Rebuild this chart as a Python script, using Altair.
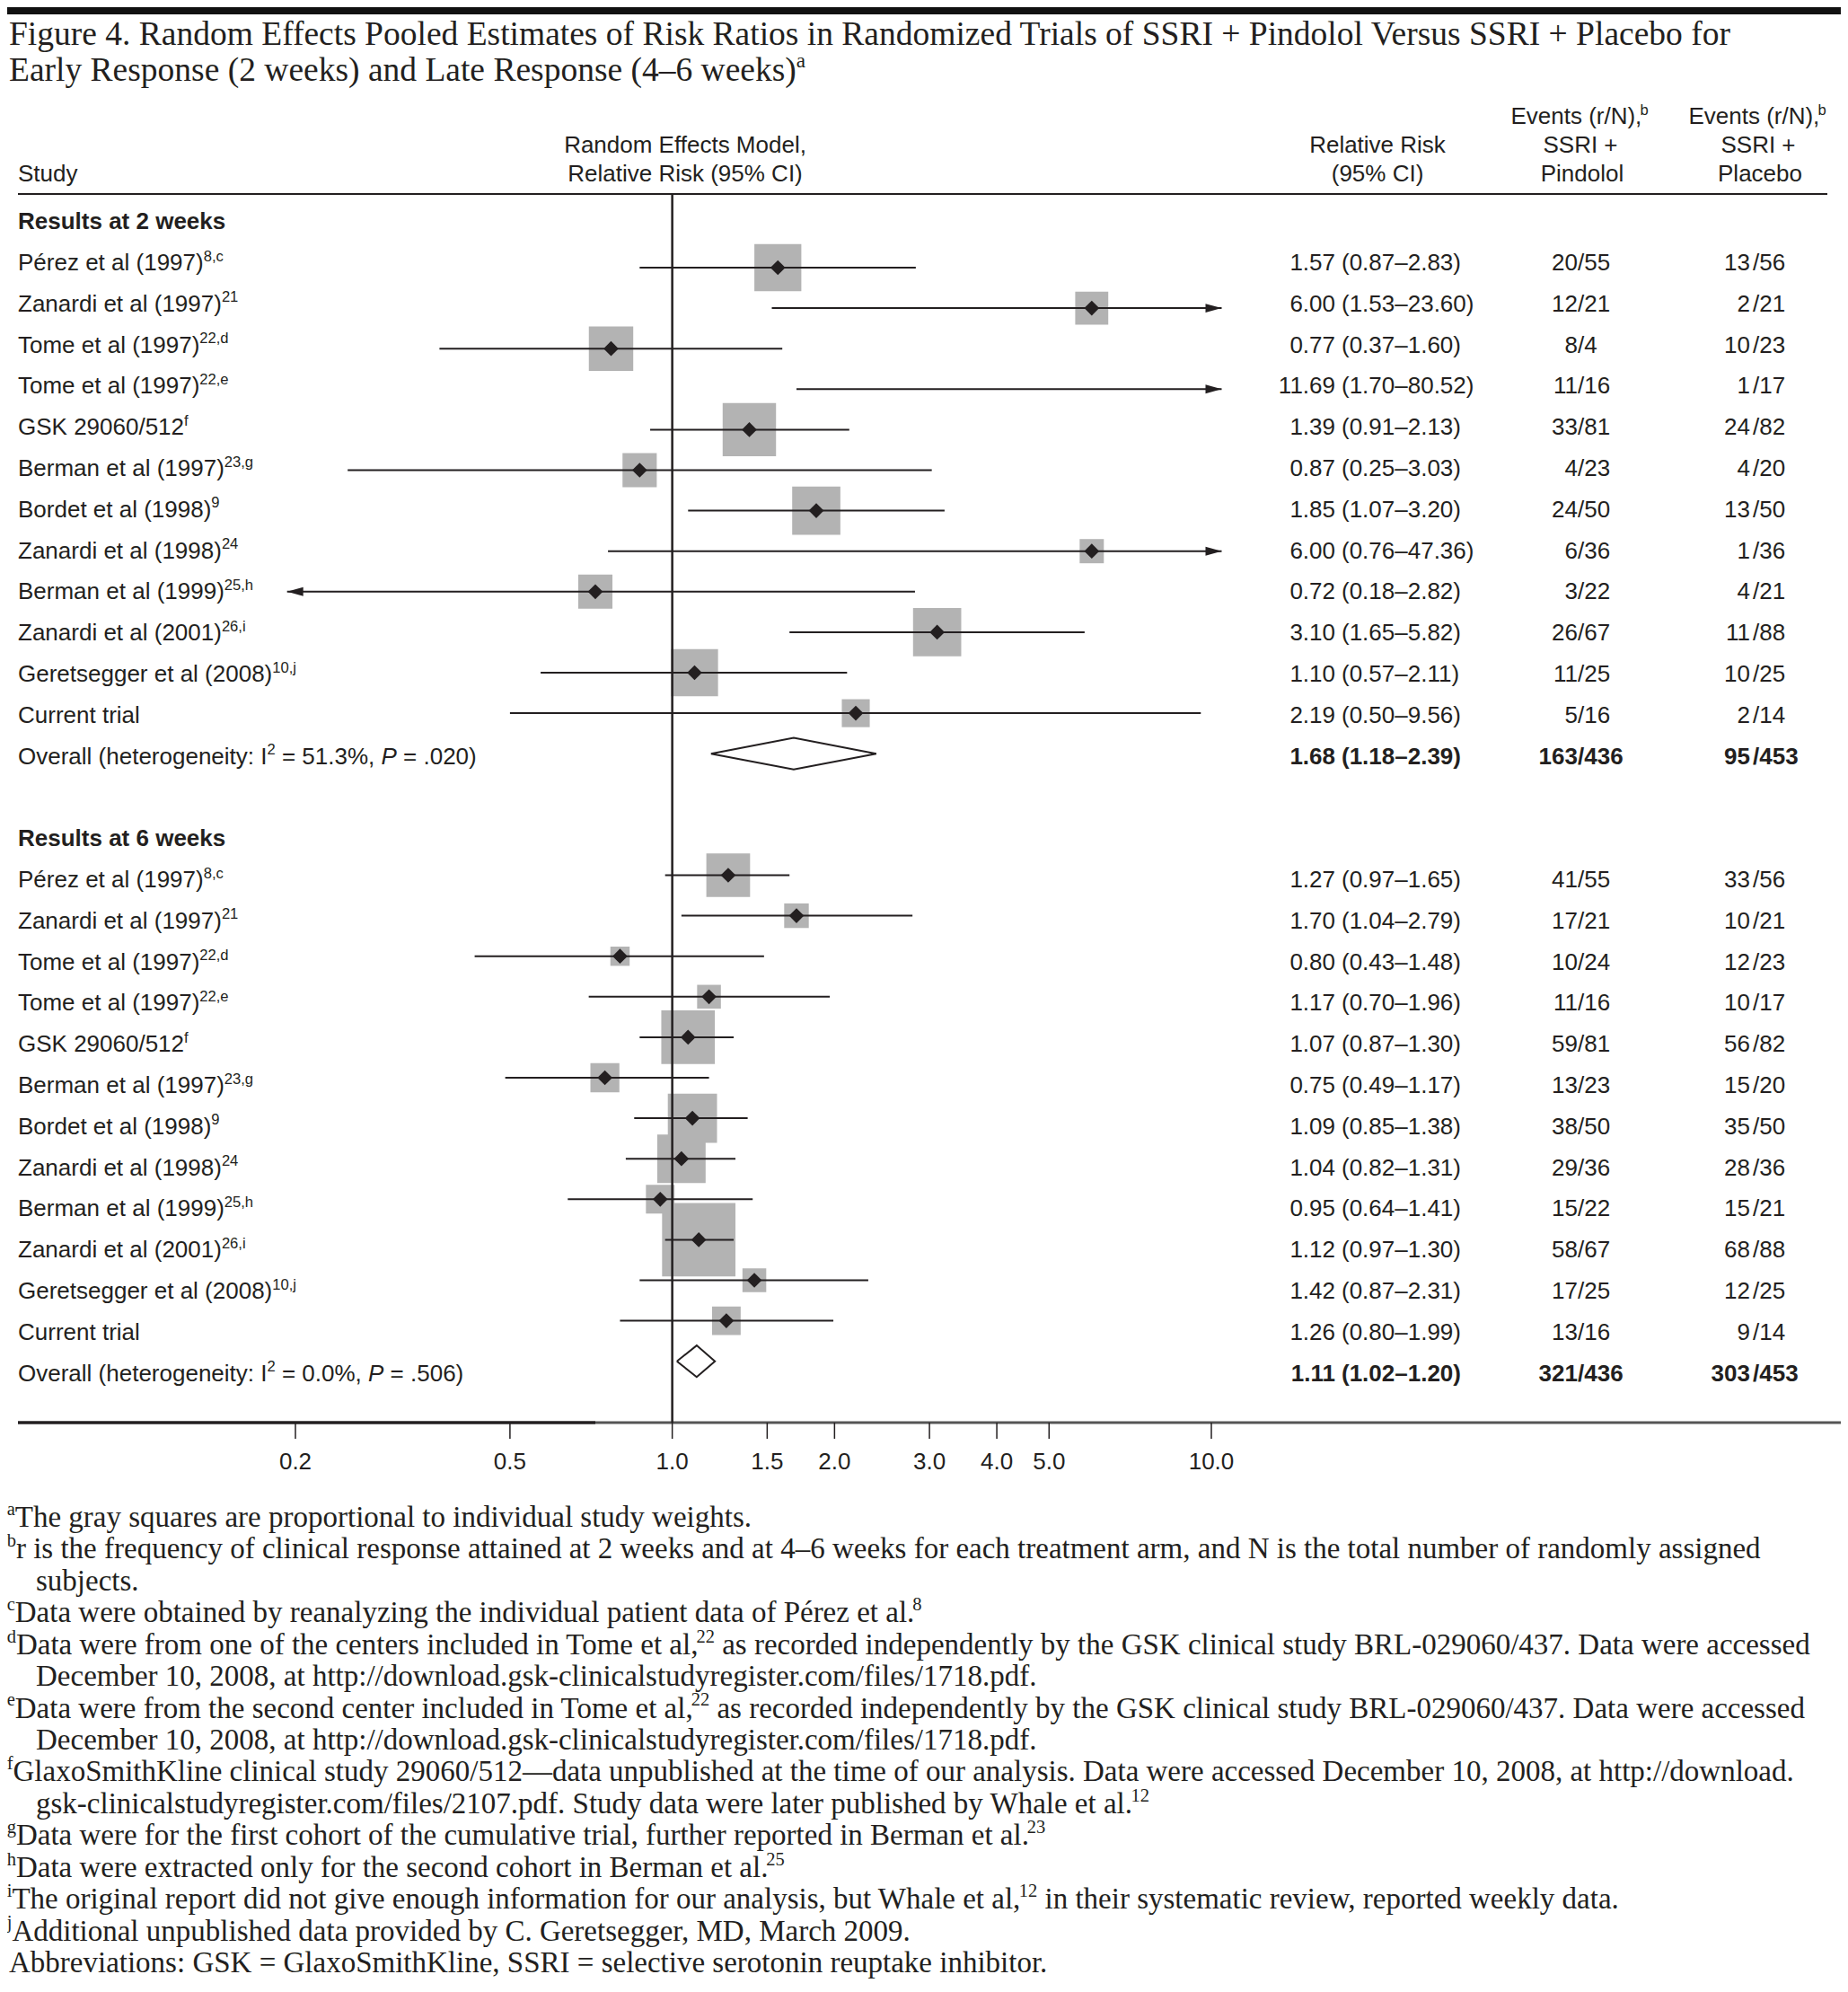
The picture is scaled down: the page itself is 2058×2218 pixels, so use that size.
import altair as alt
import pandas as pd

# ---------------- values ----------------
study_names = ["Pérez et al (1997)", "Zanardi et al (1997)", "Tome et al (1997)",
               "Tome et al (1997)", "GSK 29060/512", "Berman et al (1997)",
               "Bordet et al (1998)", "Zanardi et al (1998)", "Berman et al (1999)",
               "Zanardi et al (2001)", "Geretsegger et al (2008)", "Current trial"]
study_refs = ["8,c", "21", "22,d", "22,e", "f", "23,g", "9", "24", "25,h", "26,i", "10,j", ""]
section_titles = ["Results at 2 weeks", "Results at 6 weeks"]

rr_2wk = [1.57, 6.00, 0.77, 11.69, 1.39, 0.87, 1.85, 6.00, 0.72, 3.10, 1.10, 2.19]
lo_2wk = [0.87, 1.53, 0.37, 1.70, 0.91, 0.25, 1.07, 0.76, 0.18, 1.65, 0.57, 0.50]
hi_2wk = [2.83, 23.60, 1.60, 80.52, 2.13, 3.03, 3.20, 47.36, 2.82, 5.82, 2.11, 9.56]
weight_2wk = [11.3, 5.6, 10.1, 2.5, 14.6, 6.0, 11.9, 3.0, 6.0, 11.9, 11.3, 4.0]
pindolol_2wk = ["20/55", "12/21", "8/4", "11/16", "33/81", "4/23", "24/50", "6/36", "3/22", "26/67", "11/25", "5/16"]
placebo_2wk = ["13/56", "2/21", "10/23", "1/17", "24/82", "4/20", "13/50", "1/36", "4/21", "11/88", "10/25", "2/14"]

rr_6wk = [1.27, 1.70, 0.80, 1.17, 1.07, 0.75, 1.09, 1.04, 0.95, 1.12, 1.42, 1.26]
lo_6wk = [0.97, 1.04, 0.43, 0.70, 0.87, 0.49, 0.85, 0.82, 0.64, 0.97, 0.87, 0.80]
hi_6wk = [1.65, 2.79, 1.48, 1.96, 1.30, 1.17, 1.38, 1.31, 1.41, 1.30, 2.31, 1.99]
weight_6wk = [9.8, 3.1, 1.9, 2.9, 14.7, 4.3, 12.4, 12.0, 4.2, 27.6, 2.9, 4.2]
pindolol_6wk = ["41/55", "17/21", "10/24", "11/16", "59/81", "13/23", "38/50", "29/36", "15/22", "58/67", "17/25", "13/16"]
placebo_6wk = ["33/56", "10/21", "12/23", "10/17", "56/82", "15/20", "35/50", "28/36", "15/21", "68/88", "12/25", "9/14"]

overall_rr = [1.68, 1.11]
overall_lo = [1.18, 1.02]
overall_hi = [2.39, 1.20]
overall_pindolol = ["163/436", "321/436"]
overall_placebo = ["95/453", "303/453"]
overall_i2 = ["51.3%", "0.0%"]
overall_p = [".020", ".506"]

axis_ticks = [0.2, 0.5, 1.0, 1.5, 2.0, 3.0, 4.0, 5.0, 10.0]
axis_labels = ["0.2", "0.5", "1.0", "1.5", "2.0", "3.0", "4.0", "5.0", "10.0"]
shown_range = [0.193, 10.45]   # CIs reaching beyond end in an arrow

title_lines = ["Figure 4. Random Effects Pooled Estimates of Risk Ratios in Randomized Trials of SSRI + Pindolol Versus SSRI + Placebo for",
               "Early Response (2 weeks) and Late Response (4–6 weeks)"]
header_model = ["Random Effects Model,", "Relative Risk (95% CI)"]
header_rr = ["Relative Risk", "(95% CI)"]
header_pin = ["Events (r/N),", "SSRI +", "Pindolol"]
header_pla = ["Events (r/N),", "SSRI +", "Placebo"]

footnotes = [
    (False, [("a", "s"), ("The gray squares are proportional to individual study weights.", "n")]),
    (False, [("b", "s"), ("r is the frequency of clinical response attained at 2 weeks and at 4–6 weeks for each treatment arm, and N is the total number of randomly assigned", "n")]),
    (True, [("subjects.", "n")]),
    (False, [("c", "s"), ("Data were obtained by reanalyzing the individual patient data of Pérez et al.", "n"), ("8", "s")]),
    (False, [("d", "s"), ("Data were from one of the centers included in Tome et al,", "n"), ("22", "s"),
             (" as recorded independently by the GSK clinical study BRL-029060/437. Data were accessed", "n")]),
    (True, [("December 10, 2008, at http://download.gsk-clinicalstudyregister.com/files/1718.pdf.", "n")]),
    (False, [("e", "s"), ("Data were from the second center included in Tome et al,", "n"), ("22", "s"),
             (" as recorded independently by the GSK clinical study BRL-029060/437. Data were accessed", "n")]),
    (True, [("December 10, 2008, at http://download.gsk-clinicalstudyregister.com/files/1718.pdf.", "n")]),
    (False, [("f", "s"), ("GlaxoSmithKline clinical study 29060/512—data unpublished at the time of our analysis. Data were accessed December 10, 2008, at http://download.", "n")]),
    (True, [("gsk-clinicalstudyregister.com/files/2107.pdf. Study data were later published by Whale et al.", "n"), ("12", "s")]),
    (False, [("g", "s"), ("Data were for the first cohort of the cumulative trial, further reported in Berman et al.", "n"), ("23", "s")]),
    (False, [("h", "s"), ("Data were extracted only for the second cohort in Berman et al.", "n"), ("25", "s")]),
    (False, [("i", "s"), ("The original report did not give enough information for our analysis, but Whale et al,", "n"), ("12", "s"),
             (" in their systematic review, reported weekly data.", "n")]),
    (False, [("j", "s"), ("Additional unpublished data provided by C. Geretsegger, MD, March 2009.", "n")]),
    (False, [("Abbreviations: GSK = GlaxoSmithKline, SSRI = selective serotonin reuptake inhibitor.", "n")]),
]

# ---------------- layout / style ----------------
OX = OY = 8
W, H = 2042, 2202
INK = "#231f20"
GRAY = "#b3b3b3"
SANS, SERIF = "Liberation Sans", "Liberation Serif"
FS = 26
TEXT_ROW0, TEXT_STEP = 246.0, 45.8
GRAPH_ROW0, GRAPH_STEP = 252.9, 45.1
X_02, X_10 = 329.0, 1349.0
AREA_PER_PCT = 242.0
DIAMOND_HALF = 0.39

# advance widths (per 1000 em) for Liberation Sans / Liberation Serif
ARIAL = {" ": 278, "%": 889, "(": 333, ")": 333, "+": 584, ",": 278, "-": 333, ".": 278, "/": 278,
         ":": 278, "=": 584, "–": 556, "—": 1000, "é": 556}
TIMES = {" ": 250, "%": 833, "(": 333, ")": 333, "+": 564, ",": 250, "-": 333, ".": 250, "/": 278,
         ":": 278, "=": 564, "–": 500, "—": 1000, "é": 444}
for d in "0123456789":
    ARIAL[d] = 556
    TIMES[d] = 500
for c, a, t in zip("ABCDEFGHIJKLMNOPQRSTUVWXYZ",
                   [667, 667, 722, 722, 667, 611, 778, 722, 278, 500, 667, 556, 833, 722, 778, 667, 778, 722, 667, 611, 722, 667, 944, 667, 667, 611],
                   [722, 667, 667, 722, 611, 556, 722, 722, 333, 389, 722, 611, 889, 722, 722, 556, 722, 667, 556, 611, 722, 722, 944, 722, 722, 611]):
    ARIAL[c] = a
    TIMES[c] = t
for c, a, t in zip("abcdefghijklmnopqrstuvwxyz",
                   [556, 556, 500, 556, 556, 278, 556, 556, 222, 222, 500, 222, 833, 556, 556, 556, 556, 333, 500, 278, 556, 500, 722, 500, 500, 500],
                   [444, 500, 444, 500, 444, 333, 500, 500, 278, 278, 500, 278, 778, 500, 500, 500, 500, 333, 389, 278, 500, 500, 722, 500, 500, 444]):
    ARIAL[c] = a
    TIMES[c] = t
KERN = {
    "sans": {"To": -111, "Te": -111, "Ta": -111, "Ty": -74, "Tr": -37},
    "serif": {"To": -80, "Te": -70, "Ta": -80, "r.": -55, "r,": -40, "y.": -65, "y,": -65,
              "w.": -65, "w,": -65, "v.": -65, "v,": -65, "Wh": 0},
}


def tw(s, table, size):
    kern = KERN["sans"] if table is ARIAL else KERN["serif"]
    total = sum(table.get(ch, 500) for ch in s)
    total += sum(kern.get(s[k:k + 2], 0) for k in range(len(s) - 1))
    return total * size / 1000.0


TITLE_FS = round((1937 - 10) / tw(title_lines[0], TIMES, 1), 1)
FOOT_FS = round((1965 - 20) / tw(footnotes[1][1][1][0], TIMES, 1), 1)

# ---------------- scales ----------------
def lin(domain, rng):
    return alt.Scale(type="linear", domain=domain, range=rng, nice=False, zero=False)

px_x = lin([OX, OX + W], [0, W])
px_y = lin([OY, OY + H], [0, H])
row_t = lin([0, 28], [TEXT_ROW0 - OY, TEXT_ROW0 + 28 * TEXT_STEP - OY])
row_g = lin([0, 28], [GRAPH_ROW0 - OY, GRAPH_ROW0 + 28 * GRAPH_STEP - OY])
logx = alt.Scale(type="log", domain=[0.2, 10], range=[X_02 - OX, X_10 - OX], nice=False)

# ---------------- text records ----------------
recs = []


def put(x, y, text, xmode="px", ymode="px", font=SANS, size=FS, weight="normal",
        style="normal", align="left", dy=0.0):
    recs.append(dict(x=x, y=y, text=text, xmode=xmode, ymode=ymode, font=font, size=float(size),
                     weight=weight, style=style, align=align, dy=round(float(dy), 2)))


def rich(x, y, segs, ymode="px", font=SANS, size=FS, weight="normal", align="left", dy=0.0):
    table = ARIAL if font == SANS else TIMES
    ssz = round(size * (0.64 if font == SANS else 0.62), 1)
    widths = [tw(t, table, ssz if k == "s" else size) for t, k in segs]
    total = sum(widths)
    cx = x - total / 2 if align == "center" else (x - total if align == "right" else x)
    prev = ""
    for (t, k), w in zip(segs, widths):
        sz = ssz if k == "s" else size
        lead = len(t) - len(t.lstrip(" "))
        body = t.strip(" ")
        if k == "s" and prev in ".,":
            cx -= 0.07 * size
        if body:
            put(cx + tw(" " * lead, table, sz), y, body, ymode=ymode, font=font, size=sz, weight=weight,
                style="italic" if k == "i" else "normal",
                dy=dy - (0.40 * size if k == "s" else 0.0))
        cx += w
        prev = t[-1:] if t else prev


# title
rich(10, 50, [(title_lines[0], "n")], font=SERIF, size=TITLE_FS)
rich(10, 90, [(title_lines[1], "n"), ("a", "s")], font=SERIF, size=TITLE_FS)

# column headers (baselines)
HB = [138, 170, 202]
put(20, HB[2], "Study")
put(763, HB[1], header_model[0], align="center")
put(763, HB[2], header_model[1], align="center")
put(1534, HB[1], header_rr[0], align="center")
put(1534, HB[2], header_rr[1], align="center")
for cx, lines in [(1760, header_pin), (1958, header_pla)]:
    rich(cx, HB[0], [(lines[0], "n"), ("b", "s")], align="center")
    put(cx, HB[1], lines[1], align="center")
    put(cx + 2, HB[2], lines[2], align="center")

RDY = 0.35 * FS
RR_RIGHT, CI_LEFT = 1487, 1494
PIN_SLASH, PLA_NUM, PLA_SLASH = 1757, 1949, 1952

sections = [
    (rr_2wk, lo_2wk, hi_2wk, weight_2wk, pindolol_2wk, placebo_2wk),
    (rr_6wk, lo_6wk, hi_6wk, weight_6wk, pindolol_6wk, placebo_6wk),
]

forest_rows = []
diamond_pts = []
for s, (rr, lo, hi, wt, pin, pla) in enumerate(sections):
    base = 15 * s
    put(20, base, section_titles[s], ymode="row", weight="bold", dy=RDY)
    for i in range(len(study_names)):
        r = base + 1 + i
        segs = [(study_names[i], "n")]
        if study_refs[i]:
            segs.append((study_refs[i], "s"))
        rich(20, r, segs, ymode="row", dy=RDY)
        put(RR_RIGHT, r, f"{rr[i]:.2f}", ymode="row", align="right", dy=RDY)
        put(CI_LEFT, r, f"({lo[i]:.2f}–{hi[i]:.2f})", ymode="row", dy=RDY)
        n1, d1 = pin[i].split("/")
        put(PIN_SLASH, r, n1, ymode="row", align="right", dy=RDY)
        put(PIN_SLASH, r, "/" + d1, ymode="row", dy=RDY)
        n2, d2 = pla[i].split("/")
        put(PLA_NUM, r, n2, ymode="row", align="right", dy=RDY)
        put(PLA_SLASH, r, "/" + d2, ymode="row", dy=RDY)
        forest_rows.append(dict(
            row=r, rr=rr[i], w=wt[i],
            lo_c=max(lo[i], shown_range[0]), hi_c=min(hi[i], shown_range[1]),
            inside=shown_range[0] <= rr[i] <= shown_range[1],
            arrow_r=hi[i] > shown_range[1], arrow_l=lo[i] < shown_range[0]))
    r = base + 13
    rich(20, r, [("Overall (heterogeneity: I", "n"), ("2", "s"), (" = " + overall_i2[s] + ", ", "n"),
                 ("P", "i"), (" = " + overall_p[s] + ")", "n")], ymode="row", dy=RDY)
    put(RR_RIGHT, r, f"{overall_rr[s]:.2f}", ymode="row", align="right", weight="bold", dy=RDY)
    put(CI_LEFT, r, f"({overall_lo[s]:.2f}–{overall_hi[s]:.2f})", ymode="row", weight="bold", dy=RDY)
    n1, d1 = overall_pindolol[s].split("/")
    put(PIN_SLASH, r, n1, ymode="row", align="right", weight="bold", dy=RDY)
    put(PIN_SLASH, r, "/" + d1, ymode="row", weight="bold", dy=RDY)
    n2, d2 = overall_placebo[s].split("/")
    put(PLA_NUM, r, n2, ymode="row", align="right", weight="bold", dy=RDY)
    put(PLA_SLASH, r, "/" + d2, ymode="row", weight="bold", dy=RDY)
    pts = [(overall_lo[s], r), (overall_rr[s], r - DIAMOND_HALF), (overall_hi[s], r),
           (overall_rr[s], r + DIAMOND_HALF), (overall_lo[s], r)]
    for k, (xv, yv) in enumerate(pts):
        diamond_pts.append(dict(g=s, i=k, x=xv, y=yv))

# axis labels
for v, lab in zip(axis_ticks, axis_labels):
    put(v, 1636, lab, xmode="log", align="center")

# footnotes
for j, (indent, segs) in enumerate(footnotes):
    rich(40 if indent else 10, 1700 + 35.43 * j, segs, font=SERIF, size=FOOT_FS)

# ---------------- layers ----------------
layers = []

deco = alt.Chart(pd.DataFrame({"x": [OX], "x2": [OX + W], "y": [OY], "y2": [OY + 8]})).mark_rect(color="#111111").encode(
    x=alt.X("x:Q", scale=px_x, axis=None), x2="x2:Q",
    y=alt.Y("y:Q", scale=px_y, axis=None), y2="y2:Q")
layers.append(deco)

for xs, ys, color, sw in [((20, 2035), 216, INK, 2.2), ((20, 663), 1584, INK, 3.5), ((663, 2050), 1584, "#555555", 3.0)]:
    layers.append(alt.Chart(pd.DataFrame({"x": [xs[0]], "x2": [xs[1]], "y": [ys]})).mark_rule(color=color, strokeWidth=sw).encode(
        x=alt.X("x:Q", scale=px_x, axis=None), x2="x2:Q", y=alt.Y("y:Q", scale=px_y, axis=None)))

forest = pd.DataFrame(forest_rows)
X_RR = alt.X("rr:Q", scale=logx, axis=None)
Y_ROW = alt.Y("row:Q", scale=row_g, axis=None)

layers.append(alt.Chart(forest[forest["inside"]]).mark_square(color=GRAY, opacity=1, strokeWidth=0).encode(
    x=X_RR, y=Y_ROW,
    size=alt.Size("w:Q", scale=alt.Scale(type="linear", domain=[0, 100], range=[0, AREA_PER_PCT * 100], zero=True), legend=None)))

# reference line at RR = 1 and axis ticks
layers.append(alt.Chart(pd.DataFrame({"x": [1.0], "y": [216], "y2": [1584]})).mark_rule(color=INK, strokeWidth=2.5).encode(
    x=alt.X("x:Q", scale=logx, axis=None), y=alt.Y("y:Q", scale=px_y, axis=None), y2="y2:Q"))
layers.append(alt.Chart(pd.DataFrame({"x": axis_ticks, "y": [1584] * len(axis_ticks), "y2": [1602] * len(axis_ticks)})).mark_rule(color=INK, strokeWidth=1.5).encode(
    x=alt.X("x:Q", scale=logx, axis=None), y=alt.Y("y:Q", scale=px_y, axis=None), y2="y2:Q"))

layers.append(alt.Chart(forest).mark_rule(color=INK, strokeWidth=2).encode(
    x=alt.X("lo_c:Q", scale=logx, axis=None), x2="hi_c:Q", y=Y_ROW))

layers.append(alt.Chart(forest[forest["inside"]]).mark_point(shape="diamond", filled=True, size=280, color=INK, opacity=1, strokeWidth=0).encode(
    x=X_RR, y=Y_ROW))

layers.append(alt.Chart(forest[forest["arrow_r"]]).mark_point(shape="M-1,-0.55L1,0L-1,0.55Z", filled=True, size=324, xOffset=-9, color=INK, opacity=1, strokeWidth=0).encode(
    x=alt.X("hi_c:Q", scale=logx, axis=None), y=Y_ROW))
layers.append(alt.Chart(forest[forest["arrow_l"]]).mark_point(shape="M1,-0.55L-1,0L1,0.55Z", filled=True, size=324, xOffset=9, color=INK, opacity=1, strokeWidth=0).encode(
    x=alt.X("lo_c:Q", scale=logx, axis=None), y=Y_ROW))

layers.append(alt.Chart(pd.DataFrame(diamond_pts)).mark_line(color=INK, strokeWidth=2).encode(
    x=alt.X("x:Q", scale=logx, axis=None), y=alt.Y("y:Q", scale=row_g, axis=None),
    detail="g:N", order="i:Q"))

tdf = pd.DataFrame(recs)
keys = ["xmode", "ymode", "font", "size", "weight", "style", "align", "dy"]
for key, sub in tdf.groupby(keys, sort=False):
    xm, ym, font, size, weight, style, align, dy = key
    layers.append(alt.Chart(sub[["x", "y", "text"]].reset_index(drop=True)).mark_text(
        font=font, fontSize=float(size), fontWeight=weight, fontStyle=style, align=align,
        baseline="alphabetic", dy=float(dy), color=INK).encode(
        x=alt.X("x:Q", scale=logx if xm == "log" else px_x, axis=None),
        y=alt.Y("y:Q", scale=row_t if ym == "row" else px_y, axis=None),
        text="text:N"))

chart = alt.layer(*layers).resolve_scale(x="independent", y="independent", size="independent").properties(
    width=W, height=H, padding=0, background="white",
    autosize=alt.AutoSizeParams(type="none")).configure_view(stroke=None)

chart.save("out.html", embed_options={"renderer": "svg", "actions": False})
